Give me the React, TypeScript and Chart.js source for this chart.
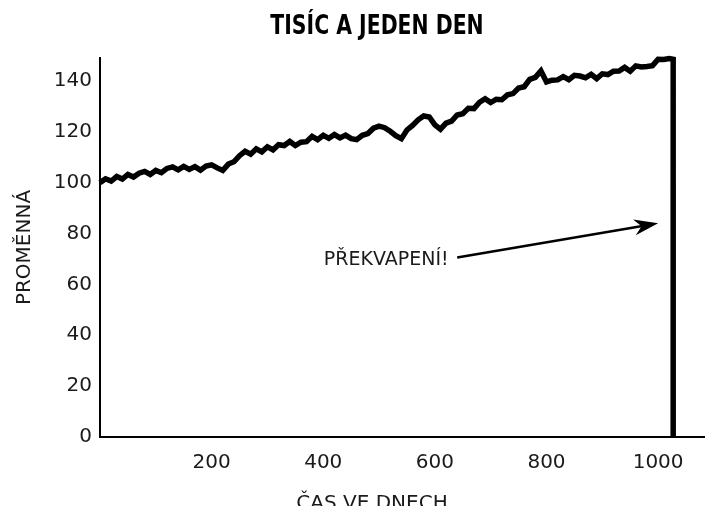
import React, { useEffect, useRef } from "react";
import { Chart, registerables } from "chart.js";

Chart.register(...registerables);

const TITLE = "TISÍC A JEDEN DEN";
const X_TITLE = "ČAS VE DNECH";
const Y_TITLE = "PROMĚNNÁ";
const ANNOTATION_TEXT = "PŘEKVAPENÍ!";

const DAYS = [
  0, 10, 20, 30, 40, 50, 60, 70, 80, 90,
  100, 110, 120, 130, 140, 150, 160, 170, 180, 190,
  200, 210, 220, 230, 240, 250, 260, 270, 280, 290,
  300, 310, 320, 330, 340, 350, 360, 370, 380, 390,
  400, 410, 420, 430, 440, 450, 460, 470, 480, 490,
  500, 510, 520, 530, 540, 550, 560, 570, 580, 590,
  600, 610, 620, 630, 640, 650, 660, 670, 680, 690,
  700, 710, 720, 730, 740, 750, 760, 770, 780, 790,
  800, 810, 820, 830, 840, 850, 860, 870, 880, 890,
  900, 910, 920, 930, 940, 950, 960, 970, 980, 990,
  1000, 1010, 1020, 1027, 1027,
];

const VALUES = [
  100.0, 101.5, 100.6, 102.4, 101.4, 103.2, 102.2, 103.7, 104.4, 103.2,
  104.8, 103.9, 105.6, 106.2, 105.0, 106.4, 105.2, 106.3, 104.9, 106.5,
  107.0, 105.8, 104.8, 107.3, 108.2, 110.6, 112.3, 111.2, 113.3, 112.1,
  114.1, 112.9, 114.9, 114.6, 116.2, 114.6, 115.9, 116.1, 118.2, 116.9,
  118.6, 117.4, 118.9, 117.6, 118.7, 117.3, 116.9, 118.6, 119.3, 121.4,
  122.2, 121.6, 120.2, 118.5, 117.3, 120.7, 122.5, 124.7, 126.2, 125.8,
  122.7, 121.0, 123.4, 124.2, 126.6, 127.1, 129.2, 129.1, 131.6, 133.0,
  131.5, 132.8, 132.6, 134.5, 135.0, 137.2, 137.7, 140.6, 141.4, 143.9,
  139.6, 140.3, 140.4, 141.7, 140.5, 142.2, 141.9, 141.2, 142.6, 140.9,
  142.8, 142.5, 143.8, 143.9, 145.3, 143.8, 145.9, 145.5, 145.7, 146.0,
  148.5, 148.4, 148.8, 148.5, 0,
];

const X_TICKS = [200, 400, 600, 800, 1000];
const Y_TICKS = [0, 20, 40, 60, 80, 100, 120, 140];
const X_MIN = 0;
const X_MAX = 1084;
const Y_MIN = 0;
const Y_MAX = 149;

const ANNOTATION_AT = { x: 401, y: 69.4 };
const ARROW_FROM = { x: 640, y: 70.6 };
const ARROW_TO = { x: 1000, y: 84 };

const FONT = "'DejaVu Sans', sans-serif";
const TEXT_COLOR = "#1a1a1a";

const overlay = {
  id: "overlay",
  afterDatasetsDraw(chart: any) {
    const { ctx, scales } = chart;
    const xs = scales.x;
    const ys = scales.y;
    ctx.save();
    ctx.fillStyle = TEXT_COLOR;
    ctx.strokeStyle = "#000";

    // annotation text
    ctx.font = `19px ${FONT}`;
    ctx.textAlign = "left";
    ctx.textBaseline = "middle";
    ctx.fillText(
      ANNOTATION_TEXT,
      xs.getPixelForValue(ANNOTATION_AT.x),
      ys.getPixelForValue(ANNOTATION_AT.y)
    );

    // arrow
    const x0 = xs.getPixelForValue(ARROW_FROM.x);
    const y0 = ys.getPixelForValue(ARROW_FROM.y);
    const x1 = xs.getPixelForValue(ARROW_TO.x);
    const y1 = ys.getPixelForValue(ARROW_TO.y);
    const ang = Math.atan2(y1 - y0, x1 - x0);
    const c = Math.cos(ang);
    const s = Math.sin(ang);
    const headLen = 24;
    const headW = 8;
    ctx.lineWidth = 2.5;
    ctx.beginPath();
    ctx.moveTo(x0, y0);
    ctx.lineTo(x1 - headLen * 0.6 * c, y1 - headLen * 0.6 * s);
    ctx.stroke();
    const bx = x1 - headLen * c;
    const by = y1 - headLen * s;
    ctx.fillStyle = "#000";
    ctx.beginPath();
    ctx.moveTo(x1, y1);
    ctx.lineTo(bx + headW * s, by - headW * c);
    ctx.lineTo(x1 - headLen * 0.7 * c, y1 - headLen * 0.7 * s);
    ctx.lineTo(bx - headW * s, by + headW * c);
    ctx.closePath();
    ctx.fill();

    // main title (condensed, heavy)
    ctx.fillStyle = "#000";
    ctx.font = `bold 27px 'DejaVu Sans Condensed', 'DejaVu Sans', sans-serif`;
    ctx.textAlign = "center";
    ctx.textBaseline = "middle";
    ctx.save();
    ctx.translate(377, 27);
    ctx.scale(0.84, 1);
    ctx.fillText(TITLE, 0, 0);
    ctx.restore();

    // x axis title
    ctx.fillStyle = TEXT_COLOR;
    ctx.font = `20px ${FONT}`;
    ctx.textBaseline = "top";
    ctx.fillText(X_TITLE, 372, 494);
    ctx.restore();
  },
};

export default function App() {
  const ref = useRef<HTMLCanvasElement | null>(null);

  useEffect(() => {
    if (!ref.current) return;
    const points = DAYS.map((d, i) => ({ x: d, y: VALUES[i] }));
    const chart = new Chart(ref.current, {
      type: "line",
      data: {
        datasets: [
          {
            data: points,
            borderColor: "#000",
            borderWidth: 5.5,
            pointRadius: 0,
            tension: 0,
            fill: false,
            borderJoinStyle: "miter",
            clip: false as any,
          },
        ],
      },
      options: {
        animation: false,
        responsive: true,
        maintainAspectRatio: false,
        layout: { padding: { top: 58, right: 0, left: 0, bottom: 0 } },
        plugins: {
          legend: { display: false },
          tooltip: { enabled: false },
          title: { display: false },
        },
        scales: {
          x: {
            type: "linear",
            min: X_MIN,
            max: X_MAX,
            grid: { display: false, drawTicks: false },
            border: { display: true, color: "#000", width: 2 },
            afterBuildTicks: (scale: any) => {
              scale.ticks = X_TICKS.map((v) => ({ value: v }));
            },
            afterFit: (scale: any) => {
              scale.height = 69;
            },
            ticks: {
              color: TEXT_COLOR,
              font: { family: FONT, size: 20 },
              padding: 14,
              maxRotation: 0,
              autoSkip: false,
              callback: (v: any) => String(v),
            },
          },
          y: {
            type: "linear",
            min: Y_MIN,
            max: Y_MAX,
            grid: { display: false, drawTicks: false },
            border: { display: true, color: "#000", width: 2 },
            afterBuildTicks: (scale: any) => {
              scale.ticks = Y_TICKS.map((v) => ({ value: v }));
            },
            afterFit: (scale: any) => {
              scale.width = 100;
            },
            ticks: {
              color: TEXT_COLOR,
              font: { family: FONT, size: 20 },
              padding: 8,
              callback: (v: any) => String(v),
            },
            title: {
              display: true,
              text: Y_TITLE,
              color: TEXT_COLOR,
              font: { family: FONT, size: 20 },
              padding: { top: 13, bottom: 0 },
            },
          },
        },
      },
      plugins: [overlay],
    });
    return () => chart.destroy();
  }, []);

  return (
    <div
      style={{
        position: "fixed",
        left: 0,
        top: 0,
        width: 705,
        height: 506,
        background: "#fff",
      }}
    >
      <canvas ref={ref} />
    </div>
  );
}
